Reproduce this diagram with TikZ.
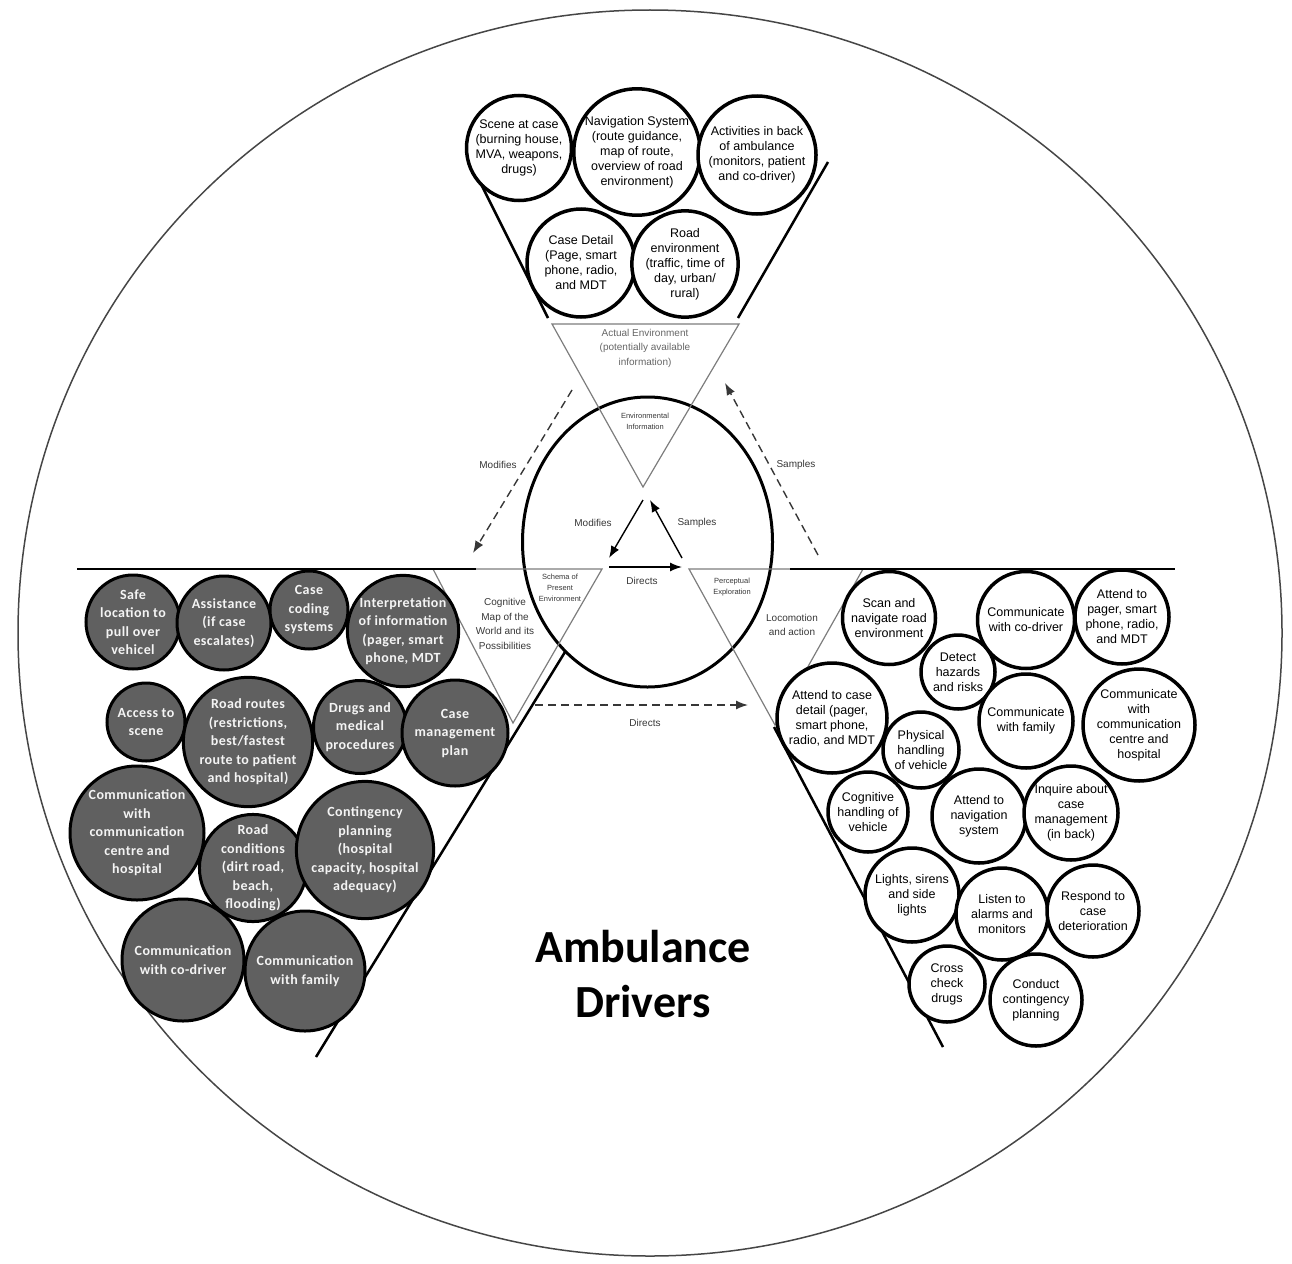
\documentclass[tikz,border=0pt]{standalone}
\usepackage{fontspec}
\setmainfont{Liberation Sans}
\newfontfamily\calib[LetterSpace=3]{Carlito}
\newfontfamily\calibh{Carlito}
\usetikzlibrary{arrows.meta}
\definecolor{darkfill}{RGB}{96,96,96}
\definecolor{lighttext}{RGB}{244,244,244}
\definecolor{trigray}{RGB}{125,125,125}
\definecolor{labgray}{RGB}{55,55,55}
\definecolor{outline}{RGB}{70,70,70}
\tikzset{
 wc/.style={circle, draw=black, line width=3.5pt, fill=white, inner sep=0pt, align=center, font=\fontsize{12.5}{15}\selectfont},
 gc/.style={circle, draw=black, line width=3pt, fill=darkfill, text=lighttext, inner sep=0pt, align=center, font=\calib\bfseries\fontsize{14}{18.5}\selectfont},
 tri/.style={draw=trigray, line width=1.2pt},
 funnel/.style={draw=black, line width=2.5pt},
 lab/.style={font=\fontsize{10}{14.5}\selectfont, text=labgray, align=center, inner sep=0pt},
 tinylab/.style={font=\fontsize{7.5}{11}\selectfont, text=labgray, align=center, inner sep=0pt},
 darr/.style={draw=labgray, line width=1.4pt, dash pattern=on 8pt off 5pt, -{Latex[length=12pt,width=9pt]}},
 sarr/.style={draw=black, line width=1.4pt, -{Latex[length=12pt,width=9pt]}},
}
\begin{document}
\begin{tikzpicture}[x=1pt,y=-1pt]
\useasboundingbox (0,0) rectangle (1292,1263);
% outer circle
\draw[draw=outline, line width=1.5pt] (650,633) ellipse [x radius=632, y radius=623];
% central ellipse
\draw[line width=3pt] (647.5,542) ellipse [x radius=125, y radius=145];
% triangles
\draw[tri] (552,324) -- (739,324) -- (643,487) -- cycle;
\draw[tri] (433,569) -- (602,569) -- (513,723) -- cycle;
\draw[tri] (689,569) -- (863,569) -- (775,725) -- cycle;
% funnels
\draw[funnel] (477,176) -- (548,318);
\draw[funnel] (828,162) -- (738,318);
\draw[funnel] (77,569) -- (476,569);
\draw[funnel] (565,652) -- (316,1057);
\draw[funnel] (790,569) -- (1175,569);
\draw[funnel] (774,727) -- (943,1047);
% top circles
\node[wc, minimum size=105pt] (scene) at (519,148) {Scene at case\\(burning house,\\MVA, weapons,\\drugs)};
\node[wc, minimum size=124pt] (nav) at (637,152) {Navigation System\\(route guidance,\\map of route,\\overview of road\\environment)};
\node[wc, minimum size=118pt] (back) at (757,155) {Activities in back\\of ambulance\\(monitors, patient\\and co-driver)};
\node[wc, minimum size=108pt] (casedet) at (581,263) {Case Detail\\(Page, smart\\phone, radio,\\and MDT};
\node[wc, minimum size=104pt] (roadenv) at (685,264) {Road\\environment\\(traffic, time of\\day, urban/\\rural)};
% left circles
\node[gc, minimum size=94pt] (safe) at (133,622) {Safe\\location to\\pull over\\vehicel};
\node[gc, minimum size=94pt] (assist) at (224,623) {Assistance\\(if case\\escalates)};
\node[gc, minimum size=78pt] (coding) at (309,610) {Case\\coding\\systems};
\node[gc, minimum size=110pt] (interp) at (403,631) {Interpretation\\of information\\(pager, smart\\phone, MDT};
\node[gc, minimum size=78pt] (access) at (146,722) {Access to\\scene};
\node[gc, minimum size=128pt] (routes) at (248,742) {Road routes\\(restrictions,\\best/fastest\\route to patient\\and hospital)};
\node[gc, minimum size=93pt] (drugs) at (360,727) {Drugs and\\medical\\procedures};
\node[gc, minimum size=106pt] (casemgmt) at (455,733) {Case\\management\\plan};
\node[gc, minimum size=134pt] (commcentre) at (137,833) {Communication\\with\\communication\\centre and\\hospital};
\node[gc, minimum size=106pt] (roadcond) at (253,868) {Road\\conditions\\(dirt road,\\beach,\\flooding)};
\node[gc, minimum size=134pt] (contin) at (365,850) {Contingency\\planning\\(hospital\\capacity, hospital\\adequacy)};
\node[gc, minimum size=122pt] (commco) at (183,960) {Communication\\with co-driver};
\node[gc, minimum size=120pt] (commfam) at (305,971) {Communication\\with family};
% right circles
\node[wc, minimum size=93pt] (scan) at (889,618) {Scan and\\navigate road\\environment};
\node[wc, minimum size=74pt] (detect) at (958,672) {Detect\\hazards\\and risks};
\node[wc, minimum size=97pt] (rco) at (1026,620) {Communicate\\with co-driver};
\node[wc, minimum size=94pt] (pager) at (1122,617) {Attend to\\pager, smart\\phone, radio,\\and MDT};
\node[wc, minimum size=110pt] (rcase) at (832,718) {Attend to case\\detail (pager,\\smart phone,\\radio, and MDT};
\node[wc, minimum size=76pt] (phys) at (921,750) {Physical\\handling\\of vehicle};
\node[wc, minimum size=94pt] (rfam) at (1026,721) {Communicate\\with family};
\node[wc, minimum size=112pt] (rcentre) at (1139,725) {Communicate\\with\\communication\\centre and\\hospital};
\node[wc, minimum size=80pt] (cogh) at (868,812) {Cognitive\\handling of\\vehicle};
\node[wc, minimum size=94pt] (navsys) at (979,816) {Attend to\\navigation\\system};
\node[wc, minimum size=94pt] (inquire) at (1071,813) {Inquire about\\case\\management\\(in back)};
\node[wc, minimum size=94pt] (lights) at (912,895) {Lights, sirens\\and side\\lights};
\node[wc, minimum size=92pt] (listen) at (1002,914) {Listen to\\alarms and\\monitors};
\node[wc, minimum size=92pt] (respond) at (1093,911) {Respond to\\case\\deterioration};
\node[wc, minimum size=76pt] (cross) at (947,984) {Cross\\check\\drugs};
\node[wc, minimum size=92pt] (conduct) at (1036,1000) {Conduct\\contingency\\planning};
% labels
\node[lab, text=black!60] (actual) at (645,348) {Actual Environment\\(potentially available\\information)};
\node[tinylab] (envinfo) at (645,421) {Environmental\\Information};
\node[tinylab] (schema) at (560,588) {Schema of\\Present\\Environment};
\node[tinylab] (percep) at (732,587) {Perceptual\\Exploration};
\node[lab] (cogmap) at (505,624) {Cognitive\\Map of the\\World and its\\Possibilities};
\node[lab] (loco) at (792,625) {Locomotion\\and action};
\node[lab] (modout) at (498,465) {Modifies};
\node[lab] (sampout) at (796,465) {Samples};
\node[lab] (modin) at (593,523) {Modifies};
\node[lab] (sampin) at (697,523) {Samples};
\node[lab] (dirin) at (642,581) {Directs};
\node[lab] (dirlow) at (645,723) {Directs};
% arrows
\coordinate (mo1) at (572,390); \coordinate (mo2) at (473,553);
\coordinate (so1) at (818,555); \coordinate (so2) at (725,383);
\coordinate (mi1) at (643,500); \coordinate (mi2) at (609,558);
\coordinate (si1) at (682,558); \coordinate (si2) at (650,500);
\coordinate (di1) at (609,567); \coordinate (di2) at (682,567);
\coordinate (dl1) at (535,705); \coordinate (dl2) at (748,705);
\draw[darr] (mo1) -- (mo2);
\draw[darr] (so1) -- (so2);
\draw[sarr] (mi1) -- (mi2);
\draw[sarr] (si1) -- (si2);
\draw[sarr] (di1) -- (di2);
\draw[darr] (dl1) -- (dl2);
% title
\node[font=\calibh\bfseries\fontsize{46}{55}\selectfont, align=center, inner sep=0pt] (title) at (643,974) {Ambulance\\Drivers};
\end{tikzpicture}
\end{document}
